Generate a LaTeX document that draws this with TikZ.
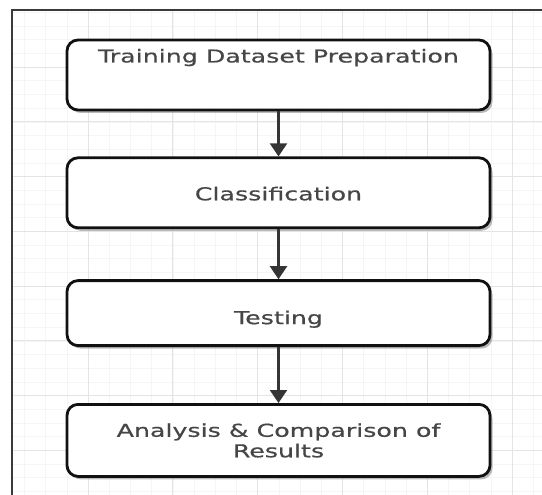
\documentclass[tikz,border=0pt]{standalone}
\usepackage{fontspec}
\usepackage{tikz}
\usetikzlibrary{arrows.meta, positioning, shadows}
\newfontfamily\stagefont[FakeStretch=1.42, FakeBold=0.6]{DejaVu Sans}
\definecolor{ink}{HTML}{111111}
\definecolor{slate}{HTML}{464646}
\definecolor{gridmajor}{HTML}{E4E4E4}
\definecolor{gridminor}{HTML}{F5F5F5}
\definecolor{sheetedge}{HTML}{3A3A3A}

\begin{document}
\begin{tikzpicture}[
    x=1pt, y=-1pt,
    node distance=45pt,
    stagebox/.style={rectangle, rounded corners=11pt, draw=ink, line width=2.8pt, fill=white, minimum width=423pt, minimum height=70pt, align=center, font=\stagefont\fontsize{17.8}{20.5}\selectfont, text=slate, drop shadow={shadow xshift=2.5pt, shadow yshift=-3pt, fill=black!45, opacity=0.6}},
    oneline/.style={text height=15pt, text depth=0pt},
    flowarrow/.style={-{Triangle[width=17pt, length=13pt]}, line width=2.2pt, color=ink!85},
  ]
  \useasboundingbox (0,0) rectangle (542,495);

  % sheet grid
  \begin{scope}
    \clip (12,10) rectangle (542,495);
    \foreach \gx in {0,...,26} \draw[gridminor, line width=0.6pt] (3.2+\gx*21.2,10) -- ++(0,485);
    \foreach \gy in {0,...,35} \draw[gridminor, line width=0.6pt] (12,12.3+\gy*13.69) -- ++(530,0);
    \foreach \gx in {0,...,6} \draw[gridmajor, line width=1pt] (3.2+\gx*84.8,10) -- ++(0,485);
    \foreach \gy in {1,...,8} \draw[gridmajor, line width=1pt] (12,12.3+\gy*54.75) -- ++(530,0);
  \end{scope}
  \draw[sheetedge, line width=1.6pt] (12,495) -- (12,10) -- (542,10);

  \node[stagebox, text height=13pt, text depth=38pt] (prep) at (278.5,75) {Training Dataset Preparation};
  \node[stagebox, oneline, below=of prep] (classify) {Classification};
  \node[stagebox, oneline, minimum height=65pt, text height=22pt, below=50pt of classify] (testing) {Testing};
  \node[stagebox, minimum height=72pt, below=56pt of testing] (analysis) {Analysis \& Comparison of\\Results};

  \draw[flowarrow] (prep.south) -- (classify.north);
  \draw[flowarrow] (classify.south) -- (testing.north);
  \draw[flowarrow] (testing.south) -- (analysis.north);
\end{tikzpicture}
\end{document}
